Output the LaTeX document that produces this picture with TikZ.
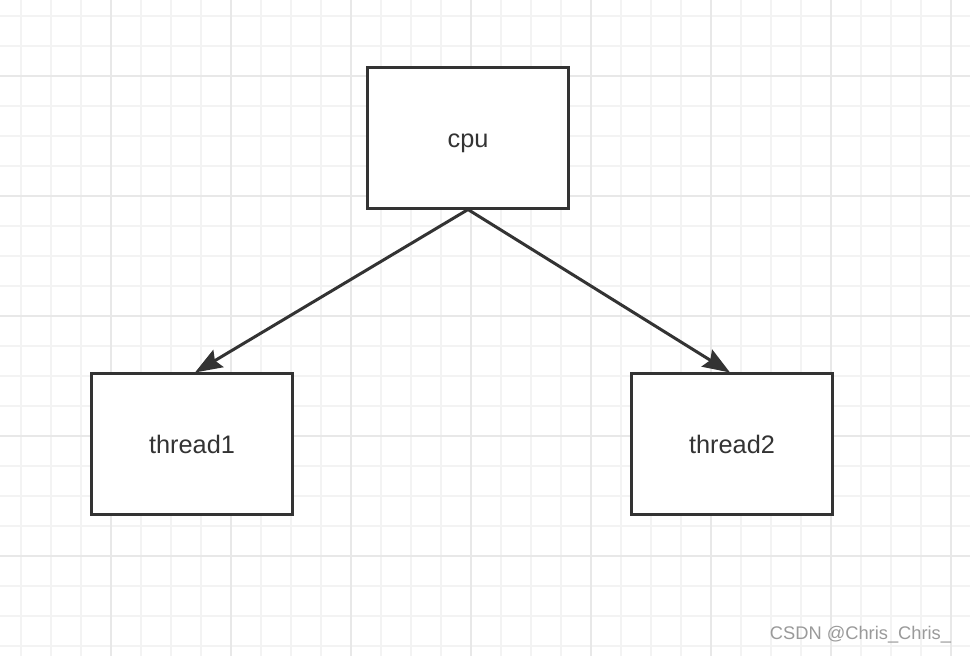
\documentclass[tikz,border=0pt]{standalone}
\usepackage{tikz}
\usepackage{xcolor}
\usepackage{fontspec}
\setmainfont{Liberation Sans}
\usetikzlibrary{arrows.meta}

\begin{document}
\begin{tikzpicture}[x=0.025cm,y=-0.025cm,
  mybox/.style={draw=boxline,line width=0.075cm,fill=white,minimum width=5cm,minimum height=3.5cm,font=\fontsize{18}{21}\selectfont,text=boxline,text height=14pt,text depth=0pt},
  myarrow/.style={draw=boxline,line width=0.075cm,-{Stealth[length=0.68cm,width=0.5cm,inset=0.1cm]}},
  minorline/.style={draw=gridminor,line width=0.05cm},
  majorline/.style={draw=gridmajor,line width=0.06cm}]
\definecolor{boxline}{HTML}{333333}
\definecolor{gridminor}{HTML}{F3F3F3}
\definecolor{gridmajor}{HTML}{E8E8E8}
\definecolor{marktext}{HTML}{9A9A9A}
\useasboundingbox (0,0) rectangle (970,656);
\fill[white] (0,0) rectangle (970,656);
% grid
  \foreach \gx in {21,51,...,951}
  {  \draw[minorline] (\gx,0) -- (\gx,656);}
  \foreach \gy in {16,46,...,646}
  {  \draw[minorline] (0,\gy) -- (970,\gy);}
  \foreach \gx in {111,231,...,951}
  {  \draw[majorline] (\gx,0) -- (\gx,656);}
  \foreach \gy in {76,196,...,556}
  {  \draw[majorline] (0,\gy) -- (970,\gy);}
% boxes
\node[mybox] (cpu) at (468,138) {cpu};
\node[mybox] (thread1) at (192,444) {thread1};
\node[mybox] (thread2) at (732,444) {thread2};
\draw[myarrow] (cpu.south) -- ([xshift=0.075cm]thread1.north);
\draw[myarrow] (cpu.south) -- ([xshift=-0.05cm]thread2.north);
\node[anchor=east,text=marktext,font=\fontsize{13}{15}\selectfont] (mark) at (956,635) {CSDN @Chris\_Chris\_};
\end{tikzpicture}
\end{document}
